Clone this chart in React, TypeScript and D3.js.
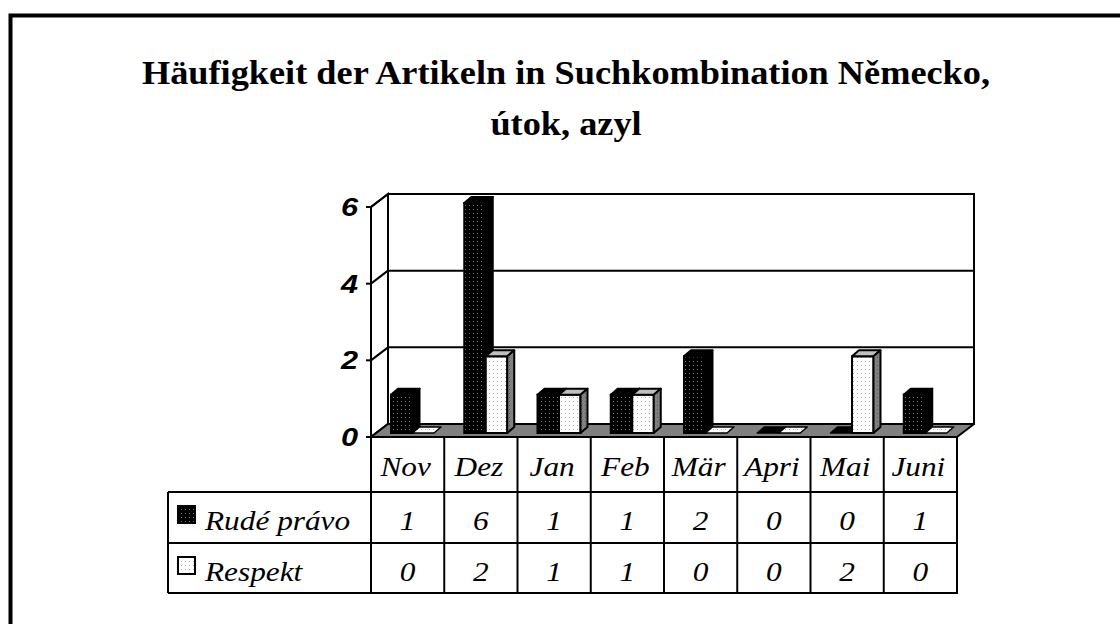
import React from "react";
import * as d3 from "d3";

const categories = ["Nov", "Dez", "Jan", "Feb", "Mär", "Apri", "Mai", "Juni"];
const rudePravo = [1, 6, 1, 1, 2, 0, 0, 1];
const respekt = [0, 2, 1, 1, 0, 0, 2, 0];
const seriesNames = ["Rudé právo", "Respekt"];
const yTicks = [0, 2, 4, 6];
const titleLines = ["Häufigkeit der Artikeln in Suchkombination Německo,", "útok, azyl"];

export default function App() {
  const W = 1120, H = 624;
  const x0 = 371, x1 = 957;
  const yZero = 437, ySix = 207;
  const DX = 17, DY = -13; // wall depth
  const x = d3.scaleBand<string>().domain(categories).range([x0, x1]).paddingInner(0).paddingOuter(0);
  const y = d3.scaleLinear().domain([0, 6]).range([yZero, ySix]);
  const series = [rudePravo, respekt];
  const inner = d3.scaleBand<number>().domain([0, 1]).range([15, 15 + 43]).padding(0);
  const bdx = 5, bdy = -4; // front face shift
  const ddx = 7, ddy = -6; // bar depth
  const fills = ["url(#pDark)", "url(#pLight)"];
  const tops = ["#000", "#c0c0c0"];
  const sides = ["#000", "url(#pSide)"];

  const bars: React.ReactNode[] = [];
  categories.forEach((c, ci) => {
    series.forEach((s, si) => {
      const v = s[ci];
      const bx = (x(c) as number) + inner(si)! + bdx;
      const bw = inner.bandwidth();
      const yb = y(0) + bdy;
      const yt = y(v) + bdy;
      const key = `${ci}-${si}`;
      if (v === 0) {
        const pts = [[bx, yb], [bx + bw, yb], [bx + bw + ddx, yb + ddy], [bx + ddx, yb + ddy]];
        bars.push(
          <polygon key={key} points={pts.map(p => p.join(",")).join(" ")} fill={si === 0 ? "#000" : "url(#pLight)"} stroke="#000" strokeWidth={1.5} strokeLinejoin="round" />
        );
        return;
      }
      const top = [[bx, yt], [bx + bw, yt], [bx + bw + ddx, yt + ddy], [bx + ddx, yt + ddy]];
      const side = [[bx + bw, yt], [bx + bw + ddx, yt + ddy], [bx + bw + ddx, yb + ddy], [bx + bw, yb]];
      bars.push(
        <g key={key}>
          <rect x={bx} y={yt} width={bw} height={yb - yt} fill={fills[si]} stroke="#000" strokeWidth={2} />
          <polygon points={top.map(p => p.join(",")).join(" ")} fill={tops[si]} stroke="#000" strokeWidth={2} strokeLinejoin="round" />
          <polygon points={side.map(p => p.join(",")).join(" ")} fill={sides[si]} stroke="#000" strokeWidth={2} strokeLinejoin="round" />
        </g>
      );
    });
  });

  const rowY = [437, 492, 543, 593];
  const tableLeft = 168;
  const colEdges = categories.map(c => x(c) as number).concat([x1]);
  const sx = 1.16;

  const txt = (key: string, tx: number, ty: number, s: string, style: React.CSSProperties, anchor: "start" | "middle" | "end", k = sx) => (
    <text key={key} transform={`translate(${tx},${ty}) scale(${k},1)`} textAnchor={anchor} style={style}>{s}</text>
  );
  const serifIt: React.CSSProperties = { fontFamily: "'Liberation Serif', 'Times New Roman', serif", fontStyle: "italic", fontSize: 27 };
  const axisSt: React.CSSProperties = { fontFamily: "'Liberation Sans', Arial, sans-serif", fontStyle: "italic", fontWeight: "bold", fontSize: 26 };
  const titleSt: React.CSSProperties = { fontFamily: "'Liberation Serif', 'Times New Roman', serif", fontWeight: "bold", fontSize: 33 };

  return (
    <svg width={W} height={H} style={{ position: "absolute", left: 0, top: 0, background: "#fff" }}>
      <defs>
        <pattern id="pDark" width={4} height={4} patternUnits="userSpaceOnUse">
          <rect width={4} height={4} fill="#000" />
          <rect x={1} y={1} width={1} height={1} fill="#777" />
        </pattern>
        <pattern id="pLight" width={4} height={4} patternUnits="userSpaceOnUse">
          <rect width={4} height={4} fill="#fff" />
          <rect x={1} y={1} width={1} height={1} fill="#aaa" />
        </pattern>
        <pattern id="pSide" width={4} height={4} patternUnits="userSpaceOnUse">
          <rect width={4} height={4} fill="#808080" />
          <rect x={1} y={1} width={1} height={1} fill="#555" />
        </pattern>
      </defs>
      {/* frame */}
      <rect x={10.5} y={15.5} width={1200} height={700} fill="none" stroke="#000" strokeWidth={4} />
      {/* title */}
      {titleLines.map((t, i) => txt(`t${i}`, 566, 84 + i * 51, t, titleSt, "middle", 1.1))}
      {/* back wall */}
      <rect x={x0 + DX} y={ySix + DY} width={x1 - x0} height={yZero - ySix} fill="#fff" stroke="#000" strokeWidth={2} />
      {yTicks.filter(t => t > 0 && t < 6).map(t => (
        <line key={`g${t}`} x1={x0 + DX} x2={x1 + DX} y1={y(t) + DY} y2={y(t) + DY} stroke="#000" strokeWidth={2} />
      ))}
      {/* left wall */}
      <polygon points={`${x0},${yZero} ${x0},${ySix} ${x0 + DX},${ySix + DY} ${x0 + DX},${yZero + DY}`} fill="#fff" stroke="#000" strokeWidth={2} />
      {yTicks.map(t => (
        <g key={`lt${t}`}>
          <line x1={x0} x2={x0 + DX} y1={y(t)} y2={y(t) + DY} stroke="#000" strokeWidth={2} />
          <line x1={x0 - 5} x2={x0} y1={y(t)} y2={y(t)} stroke="#000" strokeWidth={2} />
          {txt(`yl${t}`, x0 - 13, y(t) + 9, String(t), axisSt, "end", 1.18)}
        </g>
      ))}
      {/* floor */}
      <polygon points={`${x0},${yZero} ${x1},${yZero} ${x1 + DX},${yZero + DY} ${x0 + DX},${yZero + DY}`} fill="#808080" stroke="#000" strokeWidth={2} strokeLinejoin="round" />
      {bars}
      {/* data table */}
      <line x1={x0} x2={x0} y1={ySix} y2={rowY[3]} stroke="#000" strokeWidth={2} />
      {colEdges.slice(1).map((cx, i) => (
        <line key={`cv${i}`} x1={cx} x2={cx} y1={rowY[0]} y2={rowY[3]} stroke="#000" strokeWidth={2} />
      ))}
      {rowY.slice(1).map((ry, i) => (
        <line key={`rh${i}`} x1={tableLeft} x2={x1 + 1} y1={ry} y2={ry} stroke="#000" strokeWidth={2} />
      ))}
      <line x1={tableLeft} x2={tableLeft} y1={rowY[1]} y2={rowY[3]} stroke="#000" strokeWidth={2} />
      {categories.map((c, i) => txt(`c${i}`, (x(c) as number) + x.bandwidth() / 2 - 2, 476, c, serifIt, "middle"))}
      {series.map((s, si) => (
        <g key={`row${si}`}>
          <rect x={178} y={rowY[si + 1] + 14} width={17} height={17} fill={fills[si]} stroke="#000" strokeWidth={2} />
          {txt(`sn${si}`, 205, rowY[si + 1] + 38, seriesNames[si], serifIt, "start")}
          {s.map((v, ci) => txt(`v${si}-${ci}`, (x(categories[ci]) as number) + x.bandwidth() / 2, rowY[si + 1] + 38, String(v), serifIt, "middle"))}
        </g>
      ))}
    </svg>
  );
}
